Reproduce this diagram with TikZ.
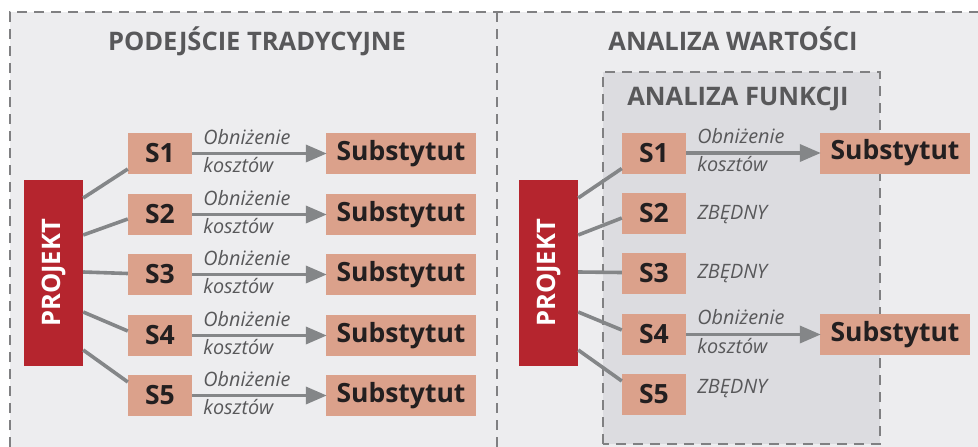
\documentclass[tikz,border=0pt]{standalone}
\usepackage{fontspec}
\setmainfont{Open Sans}
\usetikzlibrary{arrows.meta}
\definecolor{panelbg}{HTML}{EDEDEF}
\definecolor{innerbg}{HTML}{DCDCE0}
\definecolor{dashgray}{HTML}{808082}
\definecolor{titlegray}{HTML}{58585A}
\definecolor{salmon}{HTML}{DBA18B}
\definecolor{projred}{HTML}{B5252E}
\definecolor{linegray}{HTML}{848688}
\definecolor{textdark}{HTML}{231F20}
\tikzset{
  panelline/.style={draw=dashgray, line width=2.5pt, dash pattern=on 10pt off 7pt},
  titletext/.style={font=\fontsize{25.5}{28}\selectfont\bfseries, text=titlegray, anchor=base, inner sep=0pt},
  projbox/.style={fill=projred, minimum width=186pt, minimum height=59pt, inner sep=0pt,
    text=white, font=\fontsize{25.5}{28}\selectfont\bfseries, rotate=90},
  sbox/.style={fill=salmon, minimum width=64pt, minimum height=41pt, inner sep=0pt,
    text=textdark, font=\fontsize{26.5}{28}\selectfont\bfseries},
  subbox/.style={fill=salmon, minimum width=150pt, minimum height=41pt, inner sep=0pt,
    text=textdark, font=\fontsize{26.5}{28}\selectfont\bfseries},
  lbl/.style={font=\fontsize{19.8}{22}\selectfont\itshape, text=titlegray, anchor=base west, inner sep=0pt},
  conn/.style={draw=linegray, line width=3.6pt},
  arr/.style={draw=linegray, line width=3.6pt, -{Triangle[length=21pt,width=17pt]}, shorten >=-1pt},
}
\begin{document}
\begin{tikzpicture}[x=1pt,y=-1pt]
\useasboundingbox (0,0) rectangle (978,447);
% panels
\fill[panelbg] (10,12) rectangle (978,447);
\draw[panelline] (10,447) -- (10,12) -- (978,12);
\draw[panelline] (497,12) -- (497,447);
\draw[panelline, fill=innerbg] (603,444) rectangle (880,72);
% titles
\node[titletext] (t1) at (257,50) {PODEJŚCIE TRADYCYJNE};
\node[titletext] (t2) at (733,50) {ANALIZA WARTOŚCI};
\node[titletext] (t3) at (738,105) {ANALIZA FUNKCJI};
% left side
\node[projbox] (pL) at (53.5,273) {PROJEKT};
\foreach \i/\y in {1/153.5,2/214.5,3/274.5,4/335.5,5/395.5}{
  \node[sbox] (sL\i) at (160,\y) {S\i};
  \node[subbox] (uL\i) at (401,\y) {Substytut};
  \draw[arr] (sL\i.east) -- (uL\i.west);
  \node[lbl] (oL\i) at ([xshift=11pt,yshift=9.5pt]sL\i.east) {Obniżenie};
  \node[lbl] (kL\i) at ([xshift=11pt,yshift=-18.5pt]sL\i.east) {kosztów};
}
\draw[conn] ([yshift=75pt]pL.south) -- ([yshift=-15.5pt]sL1.west);
\draw[conn] ([yshift=38pt]pL.south) -- ([yshift=-4.5pt]sL2.west);
\draw[conn] ([yshift=1pt]pL.south) -- ([yshift=1pt]sL3.west);
\draw[conn] ([yshift=-39pt]pL.south) -- ([yshift=4.5pt]sL4.west);
\draw[conn] ([yshift=-77pt]pL.south) -- ([yshift=13.5pt]sL5.west);
% right side
\node[projbox] (pR) at (548.5,273) {PROJEKT};
\foreach \i/\y in {1/153,2/213.5,3/273.5,4/334.5,5/394.5}{
  \node[sbox] (sR\i) at (654,\y) {S\i};
}
\node[subbox] (uR1) at (895,153) {Substytut};
\node[subbox] (uR4) at (895,334.5) {Substytut};
\draw[arr] (sR1.east) -- (uR1.west);
\draw[arr] (sR4.east) -- (uR4.west);
\node[lbl] (oR1) at ([xshift=11pt,yshift=9.5pt]sR1.east) {Obniżenie};
\node[lbl] (kR1) at ([xshift=11pt,yshift=-18.5pt]sR1.east) {kosztów};
\node[lbl] (oR4) at ([xshift=11pt,yshift=10.5pt]sR4.east) {Obniżenie};
\node[lbl] (kR4) at ([xshift=11pt,yshift=-18.5pt]sR4.east) {kosztów};
\node[lbl] (zR2) at ([xshift=11pt,yshift=-5.5pt]sR2.east) {ZBĘDNY};
\node[lbl] (zR3) at ([xshift=11pt,yshift=-4.5pt]sR3.east) {ZBĘDNY};
\node[lbl] (zR5) at ([xshift=11pt,yshift=1.5pt]sR5.east) {ZBĘDNY};
\draw[conn] ([yshift=75pt]pR.south) -- ([yshift=-15.5pt]sR1.west);
\draw[conn] ([yshift=38pt]pR.south) -- ([yshift=-4.5pt]sR2.west);
\draw[conn] ([yshift=1pt]pR.south) -- ([yshift=1pt]sR3.west);
\draw[conn] ([yshift=-39pt]pR.south) -- ([yshift=4.5pt]sR4.west);
\draw[conn] ([yshift=-77pt]pR.south) -- ([yshift=13.5pt]sR5.west);
\end{tikzpicture}
\end{document}
